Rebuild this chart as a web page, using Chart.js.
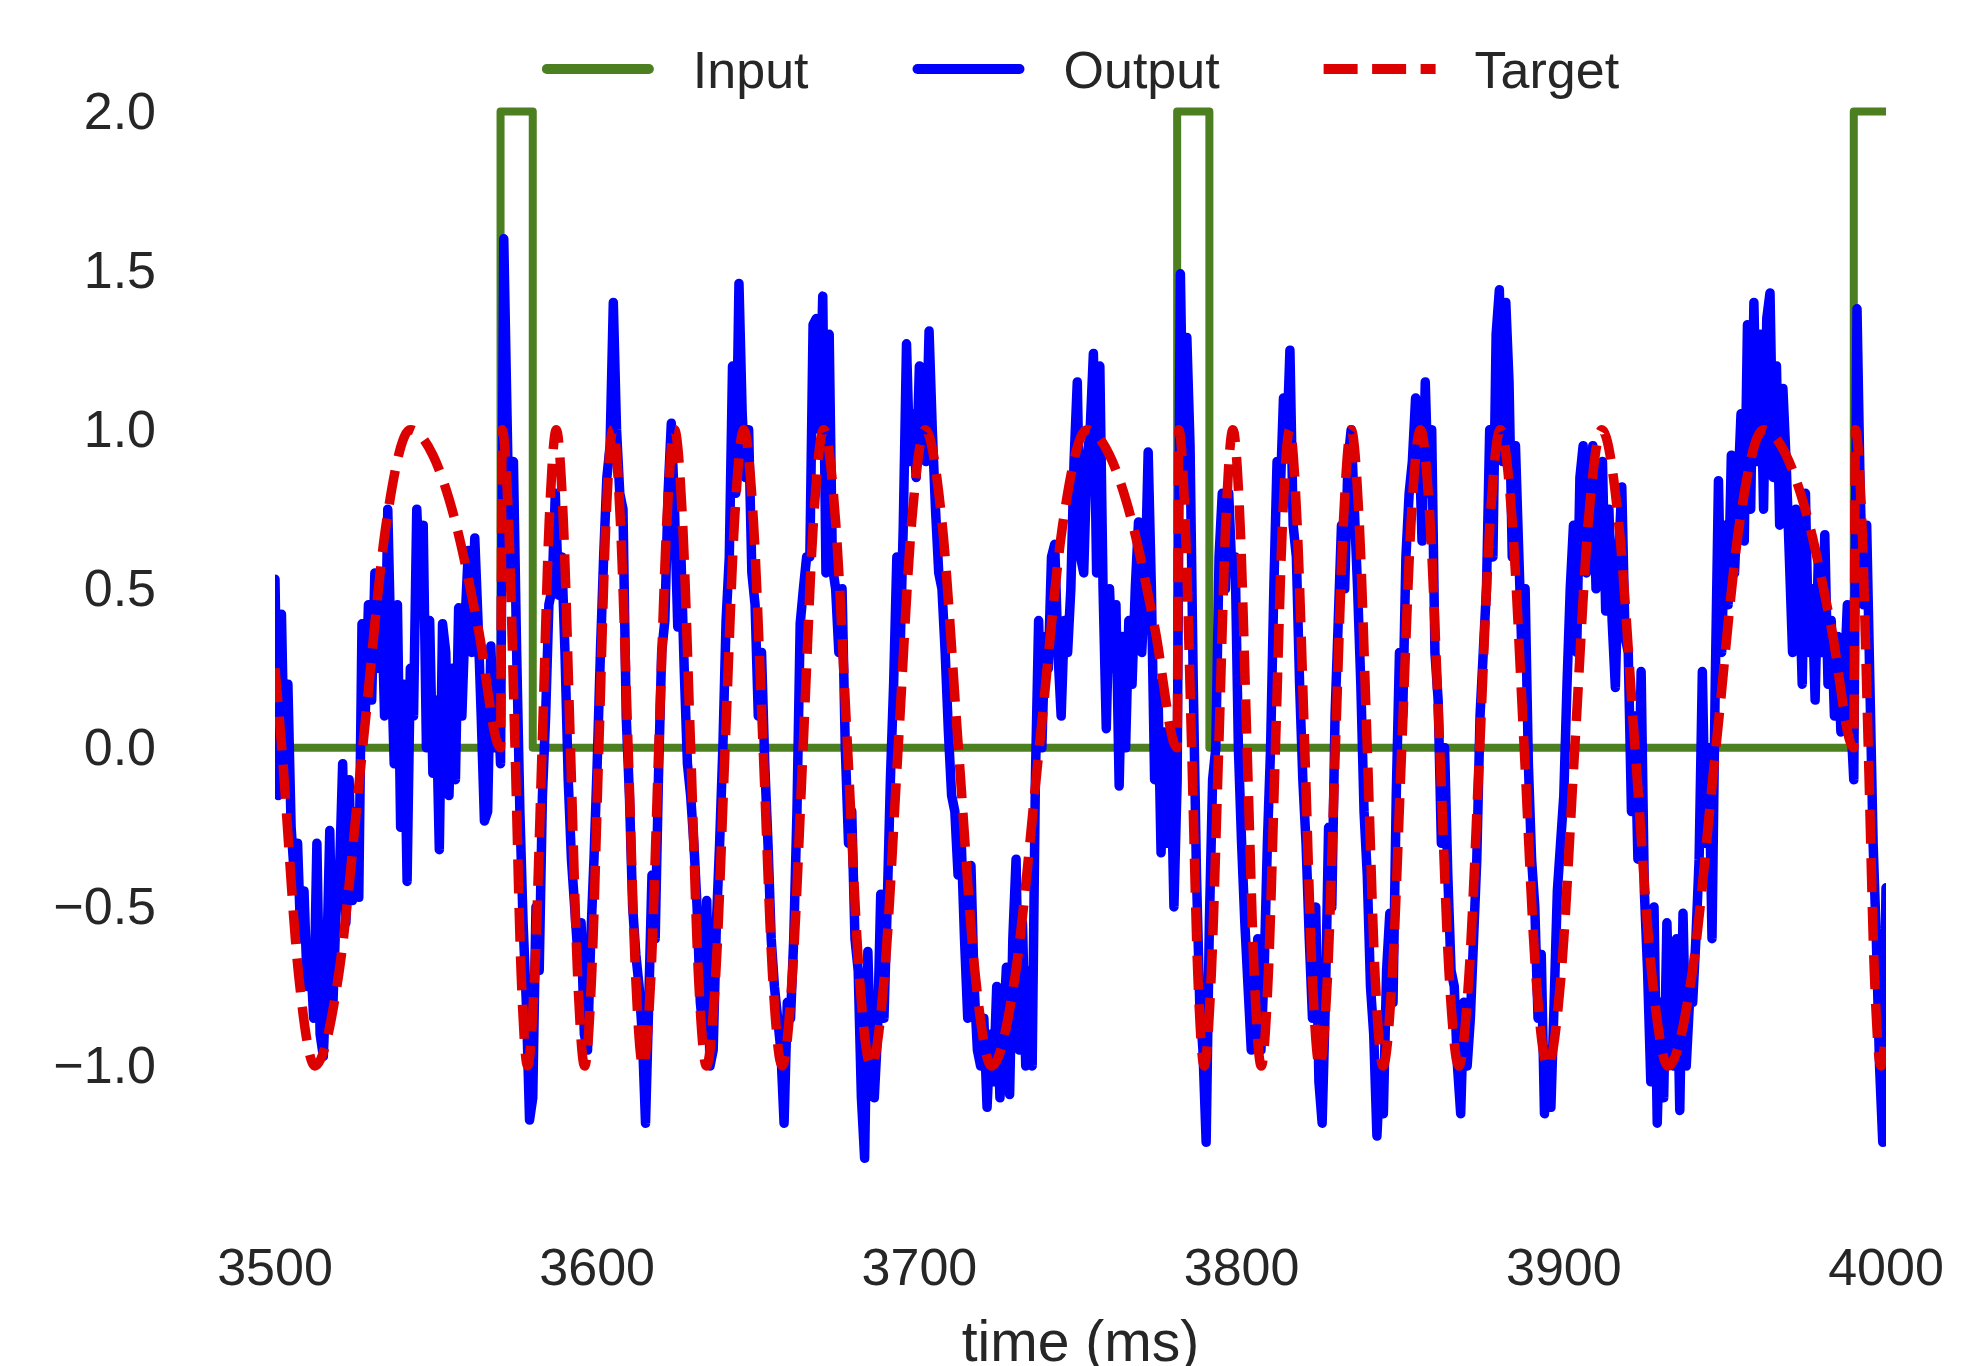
<!DOCTYPE html>
<html>
<head>
<meta charset="utf-8">
<title>Input / Output / Target</title>
<script src="https://cdn.jsdelivr.net/npm/chart.js@4.4.1/dist/chart.umd.min.js"></script>
<style>
  html, body { margin: 0; padding: 0; background: #ffffff; }
  #chart { display: block; }
</style>
</head>
<body>
<canvas id="chart" width="1975" height="1366"></canvas>
<script>
// x axis: time in ms, y axis: signal value
const xTicks = [3500, 3600, 3700, 3800, 3900, 4000];
const yTicks = [-1.0, -0.5, 0.0, 0.5, 1.0, 1.5, 2.0];

// Input: square pulses of height 2
const inputTimes = [3500, 3570, 3570, 3580, 3580, 3780, 3780, 3790, 3790, 3990, 3990, 4000];
const inputValues = [0, 0, 2, 2, 0, 0, 2, 2, 0, 0, 2, 2];

// Output: one sample per ms starting at 3500
const outputStart = 3500;
const outputValues = [
  0.53, -0.15, 0.42, -0.1, 0.2, -0.25, -0.4, -0.3, -0.6, -0.45, // 3500
  -0.75, -0.65, -0.85, -0.3, -0.9, -0.97, -0.7, -0.26, -0.8, -0.5, // 3510
  -0.4, -0.05, -0.55, -0.1, -0.48, -0.2, -0.47, 0.39, 0.1, 0.45, // 3520
  0.15, 0.55, 0.25, 0.5, 0.1, 0.75, 0.3, -0.05, 0.45, -0.25, // 3530
  0.2, -0.42, 0.25, 0.1, 0.75, 0.5, 0.7, 0.0, 0.4, -0.08, // 3540
  0.15, -0.32, 0.39, 0.3, -0.15, 0.25, -0.1, 0.44, 0.1, 0.4, // 3550
  0.62, 0.3, 0.66, 0.4, 0.1, -0.23, -0.2, 0.32, 0.0, 0.2, // 3560
  -0.05, 1.6, 1.05, 0.5, 0.9, 0.3, -0.2, -0.55, -0.8, -1.17, // 3570
  -1.1, -0.5, -0.7, -0.15, 0.1, 0.45, 0.5, 0.8, 0.48, 0.6, // 3580
  0.3, -0.1, -0.35, -0.5, -0.65, -0.55, -0.9, -0.95, -0.6, -0.35, // 3590
  -0.05, 0.3, 0.6, 0.85, 0.95, 1.4, 1.0, 0.8, 0.75, 0.1, // 3600
  -0.15, -0.5, -0.65, -0.75, -0.9, -1.18, -0.8, -0.4, -0.6, -0.1, // 3610
  0.3, 0.4, 0.8, 1.02, 0.75, 0.38, 0.6, 0.25, -0.05, -0.15, // 3620
  -0.3, -0.5, -0.8, -0.9, -0.48, -1.0, -0.95, -0.55, -0.3, 0.0, // 3630
  0.4, 0.6, 1.2, 0.8, 1.46, 1.05, 0.85, 1.0, 0.55, 0.45, // 3640
  0.1, 0.3, -0.05, -0.3, -0.6, -0.75, -0.85, -0.95, -1.18, -0.8, // 3650
  -0.85, -0.6, -0.2, 0.39, 0.5, 0.6, 0.6, 1.33, 1.35, 1.0, // 3660
  1.42, 0.55, 1.3, 0.57, 0.5, 0.3, 0.5, 0.0, -0.3, -0.2, // 3670
  -0.6, -0.7, -1.1, -1.29, -0.64, -1.0, -1.1, -0.9, -0.46, -0.85, // 3680
  -0.5, -0.1, 0.2, 0.6, 0.3, 0.7, 1.27, 0.9, 1.05, 0.85, // 3690
  1.2, 0.95, 0.9, 1.31, 1.0, 0.75, 0.55, 0.5, 0.3, 0.05, // 3700
  -0.15, -0.2, -0.4, -0.3, -0.6, -0.85, -0.37, -0.75, -0.95, -1.0, // 3710
  -0.85, -1.13, -0.9, -1.05, -0.75, -1.1, -0.9, -0.69, -1.09, -0.6, // 3720
  -0.35, -0.95, -0.55, -1.0, -0.7, -1.0, -0.1, 0.4, 0.0, 0.35, // 3730
  0.25, 0.6, 0.64, 0.3, 0.1, 0.4, 0.3, 0.5, 0.9, 1.15, // 3740
  0.6, 0.55, 0.9, 1.0, 1.24, 0.55, 1.2, 0.5, 0.06, 0.5, // 3750
  0.25, 0.45, -0.12, 0.35, 0.0, 0.4, 0.2, 0.5, 0.71, 0.3, // 3760
  0.5, 0.93, 0.5, -0.1, 0.2, -0.33, 0.05, -0.3, 0.0, -0.5, // 3770
  -0.1, 1.49, 0.85, 1.29, 0.95, 0.2, -0.4, -0.8, -0.95, -1.24, // 3780
  -0.55, -0.1, 0.0, 0.6, 0.8, 0.5, 0.8, 0.55, 0.6, 0.0, // 3790
  -0.3, -0.55, -0.75, -0.95, -0.85, -0.6, -0.95, -0.7, -0.3, 0.0, // 3800
  0.5, 0.9, 0.8, 1.1, 0.95, 1.25, 0.7, 0.6, 0.2, -0.1, // 3810
  -0.3, -0.6, -0.85, -0.5, -1.05, -1.18, -0.8, -0.25, -0.5, 0.1, // 3820
  0.4, 0.7, 0.5, 0.9, 1.0, 0.75, 0.5, 0.2, -0.2, -0.4, // 3830
  -0.75, -0.9, -1.22, -1.0, -1.15, -0.7, -0.52, -0.8, -0.15, 0.3, // 3840
  0.1, 0.6, 0.8, 0.9, 1.1, 1.0, 0.65, 1.15, 0.8, 1.0, // 3850
  0.3, 0.15, -0.3, 0.0, -0.4, -0.7, -0.75, -1.0, -1.15, -0.8, // 3860
  -1.0, -0.85, -0.6, -0.35, 0.1, 0.3, 0.5, 1.0, 0.6, 1.3, // 3870
  1.44, 0.9, 1.4, 1.15, 0.6, 0.95, 0.62, 0.3, 0.5, -0.05, // 3880
  -0.35, -0.5, -0.85, -0.65, -1.15, -0.95, -1.13, -0.8, -0.45, -0.3, // 3890
  -0.15, 0.2, 0.5, 0.7, 0.3, 0.85, 0.95, 0.55, 0.6, 0.95, // 3900
  0.5, 0.72, 0.9, 0.43, 0.75, 0.4, 0.19, 0.6, 0.82, 0.35, // 3910
  0.3, -0.2, 0.1, -0.35, 0.24, -0.45, -0.7, -1.05, -0.5, -1.18, // 3920
  -0.8, -1.1, -0.55, -0.95, -1.0, -0.6, -1.14, -0.52, -1.0, -0.8, // 3930
  -0.8, -0.6, -0.35, 0.24, -0.3, 0.0, -0.6, 0.2, 0.84, 0.3, // 3940
  0.7, 0.45, 0.92, 0.55, 0.8, 1.05, 0.65, 1.33, 0.75, 1.4, // 3950
  0.9, 1.3, 0.75, 1.35, 1.43, 0.85, 1.2, 0.7, 1.13, 0.9, // 3960
  0.6, 0.3, 0.75, 0.55, 0.2, 0.8, 0.3, 0.5, 0.15, 0.6, // 3970
  0.3, 0.67, 0.2, 0.4, 0.1, 0.35, 0.05, 0.2, 0.45, 0.1, // 3980
  -0.1, 1.38, 0.8, 0.45, 0.7, 0.2, -0.3, -0.6, -1.0, -1.24, // 3990
  -0.44 // 4000
];

// Target: extrema, zero crossings and quarter points
const targetTimes = [
  3500, 3502.1, 3507.3, 3512.4, 3519.8, 3527.2, 3534.6, 3542.0, 3549.0, 3556.0, 3563.0, 3570.0,
  3570.5, 3572.5, 3574.5, 3576.4, 3578.4, 3580.6, 3582.9, 3585.1, 3587.3, 3589.5, 3591.7, 3593.9,
  3596.1, 3598.3, 3600.5, 3602.7, 3604.9, 3607.2, 3609.6, 3611.9, 3614.2, 3616.7, 3619.1, 3621.6,
  3624.0, 3626.5, 3629.0, 3631.4, 3633.9, 3636.8, 3639.7, 3642.6, 3645.5, 3648.5, 3651.5, 3654.4,
  3657.4, 3660.6, 3663.9, 3667.1, 3670.3, 3674.0, 3677.7, 3681.3, 3685.0, 3689.2, 3693.4, 3697.6,
  3701.8, 3707.0, 3712.1, 3717.3, 3722.4, 3729.8, 3737.2, 3744.6, 3752.0, 3759.0, 3766.0, 3773.0, 3780.0,
  3780.5, 3782.5, 3784.5, 3786.4, 3788.4, 3790.6, 3792.9, 3795.1, 3797.3, 3799.5, 3801.7, 3803.9,
  3806.1, 3808.3, 3810.5, 3812.7, 3814.9, 3817.2, 3819.6, 3821.9, 3824.2, 3826.7, 3829.1, 3831.6,
  3834.0, 3836.5, 3839.0, 3841.4, 3843.9, 3846.8, 3849.7, 3852.6, 3855.5, 3858.5, 3861.5, 3864.4,
  3867.4, 3870.6, 3873.9, 3877.1, 3880.3, 3884.0, 3887.7, 3891.3, 3895.0, 3899.2, 3903.4, 3907.6,
  3911.8, 3917.0, 3922.1, 3927.3, 3932.4, 3939.8, 3947.2, 3954.6, 3962.0, 3969.0, 3976.0, 3983.0, 3990.0,
  3990.5, 3992.5, 3994.5, 3996.4, 3998.4, 4000.0
];
const targetValues = [
  0.25, 0, -0.71, -1, -0.71, 0, 0.71, 1, 0.92, 0.71, 0.38, 0,
  1, 0.71, 0, -0.71, -1, -0.71, 0, 0.71, 1, 0.71, 0, -0.71,
  -1, -0.71, 0, 0.71, 1, 0.71, 0, -0.71, -1, -0.71, 0, 0.71,
  1, 0.71, 0, -0.71, -1, -0.71, 0, 0.71, 1, 0.71, 0, -0.71,
  -1, -0.71, 0, 0.71, 1, 0.71, 0, -0.71, -1, -0.71, 0, 0.71,
  1, 0.71, 0, -0.71, -1, -0.71, 0, 0.71, 1, 0.92, 0.71, 0.38, 0,
  1, 0.71, 0, -0.71, -1, -0.71, 0, 0.71, 1, 0.71, 0, -0.71,
  -1, -0.71, 0, 0.71, 1, 0.71, 0, -0.71, -1, -0.71, 0, 0.71,
  1, 0.71, 0, -0.71, -1, -0.71, 0, 0.71, 1, 0.71, 0, -0.71,
  -1, -0.71, 0, 0.71, 1, 0.71, 0, -0.71, -1, -0.71, 0, 0.71,
  1, 0.71, 0, -0.71, -1, -0.71, 0, 0.71, 1, 0.92, 0.71, 0.38, 0,
  1, 0.71, 0, -0.71, -1, -0.9
];

const FONT = '"Liberation Sans", Arial, Helvetica, sans-serif';
const TEXT = "#262626";

const toPoints = (xs, ys) => xs.map((x, i) => ({ x: x, y: ys[i] }));

const lineLegend = {
  id: "lineLegend",
  afterDraw(chart) {
    const ctx = chart.ctx;
    const area = chart.chartArea;
    const lineLen = 112;
    const textGap = 39;
    const itemGap = 104;
    const midY = 69;
    ctx.save();
    ctx.font = "52px " + FONT;
    const items = chart.data.datasets.map((ds) => ({
      label: ds.label,
      color: ds.borderColor,
      dash: ds.borderDash || []
    }));
    const widths = items.map((it) => lineLen + textGap + ctx.measureText(it.label).width);
    const total = widths.reduce((a, b) => a + b, 0) + itemGap * (items.length - 1);
    let x = (area.left + area.right) / 2 - total / 2;
    items.forEach((it, i) => {
      ctx.beginPath();
      ctx.strokeStyle = it.color;
      ctx.lineWidth = 10;
      if (it.dash.length) {
        ctx.setLineDash([34, 14.5]);
        ctx.lineCap = "butt";
        ctx.moveTo(x, midY);
        ctx.lineTo(x + lineLen, midY);
      } else {
        ctx.setLineDash([]);
        ctx.lineCap = "round";
        ctx.moveTo(x + 5, midY);
        ctx.lineTo(x + lineLen - 5, midY);
      }
      ctx.stroke();
      ctx.setLineDash([]);
      ctx.fillStyle = TEXT;
      ctx.textBaseline = "alphabetic";
      ctx.textAlign = "left";
      ctx.fillText(it.label, x + lineLen + textGap, 88);
      x += widths[i] + itemGap;
    });
    ctx.restore();
  }
};

const chart = new Chart(document.getElementById("chart"), {
  type: "line",
  data: {
    datasets: [
      {
        label: "Input",
        data: toPoints(inputTimes, inputValues),
        borderColor: "#4b7f1f",
        borderWidth: 8,
        borderJoinStyle: "round",
        borderCapStyle: "round",
        pointRadius: 0,
        order: 2
      },
      {
        label: "Output",
        data: outputValues.map((v, i) => ({ x: outputStart + i, y: v })),
        borderColor: "#0000ff",
        borderWidth: 9.5,
        borderJoinStyle: "round",
        borderCapStyle: "round",
        pointRadius: 0,
        order: 1
      },
      {
        label: "Target",
        data: toPoints(targetTimes, targetValues),
        borderColor: "#dd0000",
        borderWidth: 9.5,
        borderDash: [34, 14.5],
        borderCapStyle: "butt",
        borderJoinStyle: "round",
        cubicInterpolationMode: "monotone",
        pointRadius: 0,
        order: 0
      }
    ]
  },
  options: {
    responsive: false,
    animation: false,
    devicePixelRatio: 1,
    layout: { padding: { top: 48, right: 89, bottom: 0, left: 0 } },
    plugins: {
      legend: { display: false },
      tooltip: { enabled: false }
    },
    scales: {
      x: {
        type: "linear",
        min: 3500,
        max: 4000,
        grid: { display: false, drawTicks: false },
        border: { display: false },
        afterBuildTicks: (scale) => {
          scale.ticks = xTicks.map((v) => ({ value: v }));
        },
        afterFit: (scale) => {
          scale.height = 141;
        },
        ticks: {
          autoSkip: false,
          maxRotation: 0,
          padding: 14,
          color: TEXT,
          font: { family: FONT, size: 52 },
          callback: (v) => String(v)
        },
        title: {
          display: true,
          text: "time (ms)",
          color: TEXT,
          padding: { top: 0, bottom: 0 },
          font: { family: FONT, size: 57, lineHeight: 0.72 }
        }
      },
      y: {
        type: "linear",
        min: -1.5,
        max: 2.2,
        grid: { display: false, drawTicks: false },
        border: { display: false },
        afterBuildTicks: (scale) => {
          scale.ticks = yTicks.map((v) => ({ value: v }));
        },
        afterFit: (scale) => {
          scale.width = 275;
          scale.paddingTop = 0;
          scale.paddingBottom = 0;
        },
        ticks: {
          padding: 119,
          labelOffset: 3,
          color: TEXT,
          font: { family: FONT, size: 52 },
          callback: (v) => v.toFixed(1).replace("-", "\u2212")
        }
      }
    }
  },
  plugins: [lineLegend]
});
</script>
</body>
</html>
